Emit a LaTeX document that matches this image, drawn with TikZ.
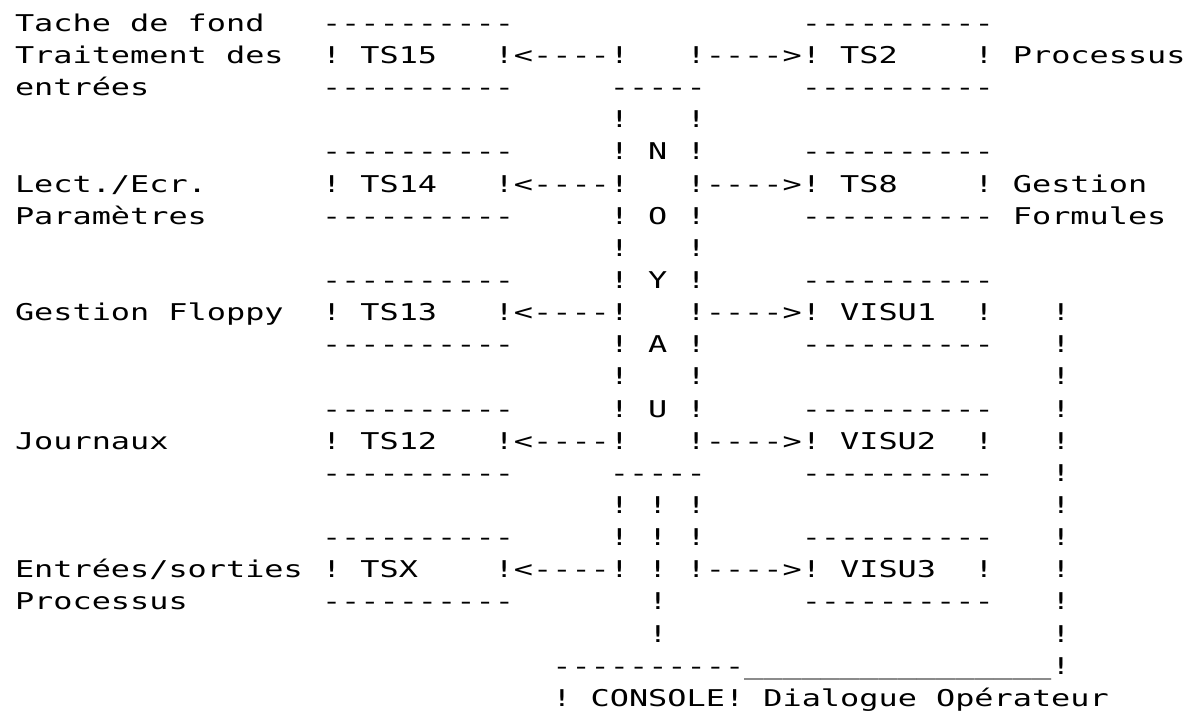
\documentclass[tikz,border=0pt]{standalone}
\usepackage{fontspec}
\newfontfamily\dotfont{DejaVu Sans Mono}[FakeStretch=1.38,Ligatures=TeXOff]
\newlength\cw
\setlength\cw{19.19pt}
\newcommand\dotsetup{\dotfont\fontsize{23.1pt}{28pt}\selectfont\frenchspacing\spaceskip\cw\relax}
\tikzset{
  txt/.style={anchor=base west, inner sep=0pt, outer sep=0pt, text=black,
    font={\dotsetup}},
}
% place a text at grid column #2, row #3
\newcommand\cellnode[4]{\node[txt] (#1) at ({15+(#2)*19.19},{696.6-(#3)*32.14}) {#4};}
% a box drawn with characters: top dashes, middle line, bottom dashes
\newcommand\charbox[4]{%
  \cellnode{#1t}{#2}{#3-1}{----------}%
  \cellnode{#1}{#2}{#3}{#4}%
  \cellnode{#1b}{#2}{#3+1}{----------}}
\begin{document}
\begin{tikzpicture}[x=1pt,y=1pt]
\useasboundingbox (0,0) rectangle (1189,728);
% left labels
\cellnode{lab15a}{0}{0}{Tache de fond}
\cellnode{lab15b}{0}{1}{Traitement des}
\cellnode{lab15c}{0}{2}{entrées}
\cellnode{lab14a}{0}{5}{Lect./Ecr.}
\cellnode{lab14b}{0}{6}{Paramètres}
\cellnode{lab13}{0}{9}{Gestion Floppy}
\cellnode{lab12}{0}{13}{Journaux}
\cellnode{labxa}{0}{17}{Entrées/sorties}
\cellnode{labxb}{0}{18}{Processus}
% left boxes
\charbox{ts15}{16}{1}{!~TS15~~~!}
\charbox{ts14}{16}{5}{!~TS14~~~!}
\charbox{ts13}{16}{9}{!~TS13~~~!}
\charbox{ts12}{16}{13}{!~TS12~~~!}
\charbox{tsx}{16}{17}{!~TSX~~~~!}
% left arrows
\cellnode{al1}{26}{1}{<----}
\cellnode{al5}{26}{5}{<----}
\cellnode{al9}{26}{9}{<----}
\cellnode{al13}{26}{13}{<----}
\cellnode{al17}{26}{17}{<----}
% NOYAU column
\cellnode{n1}{31}{1}{!~~~!}
\cellnode{nt}{31}{2}{-----}
\cellnode{n3}{31}{3}{!~~~!}
\cellnode{n4}{31}{4}{!~N~!}
\cellnode{n5}{31}{5}{!~~~!}
\cellnode{n6}{31}{6}{!~O~!}
\cellnode{n7}{31}{7}{!~~~!}
\cellnode{n8}{31}{8}{!~Y~!}
\cellnode{n9}{31}{9}{!~~~!}
\cellnode{n10}{31}{10}{!~A~!}
\cellnode{n11}{31}{11}{!~~~!}
\cellnode{n12}{31}{12}{!~U~!}
\cellnode{n13}{31}{13}{!~~~!}
\cellnode{nb}{31}{14}{-----}
\cellnode{n15}{31}{15}{!~!~!}
\cellnode{n16}{31}{16}{!~!~!}
\cellnode{n17}{31}{17}{!~!~!}
\cellnode{c18}{33}{18}{!}
\cellnode{c19}{33}{19}{!}
% right arrows
\cellnode{ar1}{36}{1}{---->}
\cellnode{ar5}{36}{5}{---->}
\cellnode{ar9}{36}{9}{---->}
\cellnode{ar13}{36}{13}{---->}
\cellnode{ar17}{36}{17}{---->}
% right boxes
\charbox{ts2}{41}{1}{!~TS2~~~~!}
\charbox{ts8}{41}{5}{!~TS8~~~~!}
\charbox{visu1}{41}{9}{!~VISU1~~!}
\charbox{visu2}{41}{13}{!~VISU2~~!}
\charbox{visu3}{41}{17}{!~VISU3~~!}
% right labels
\cellnode{lab2}{52}{1}{Processus}
\cellnode{lab8a}{52}{5}{Gestion}
\cellnode{lab8b}{52}{6}{Formules}
% right vertical line
\foreach \r in {9,...,20} {\cellnode{v\r}{54}{\r}{!}}
% console
\cellnode{cont}{28}{20}{----------}
\cellnode{ul}{38}{20}{\_\_\_\_\_\_\_\_\_\_\_\_\_\_\_\_}
\cellnode{console}{28}{21}{!~CONSOLE!}
\cellnode{labc}{39}{21}{Dialogue Opérateur}
\end{tikzpicture}
\end{document}
